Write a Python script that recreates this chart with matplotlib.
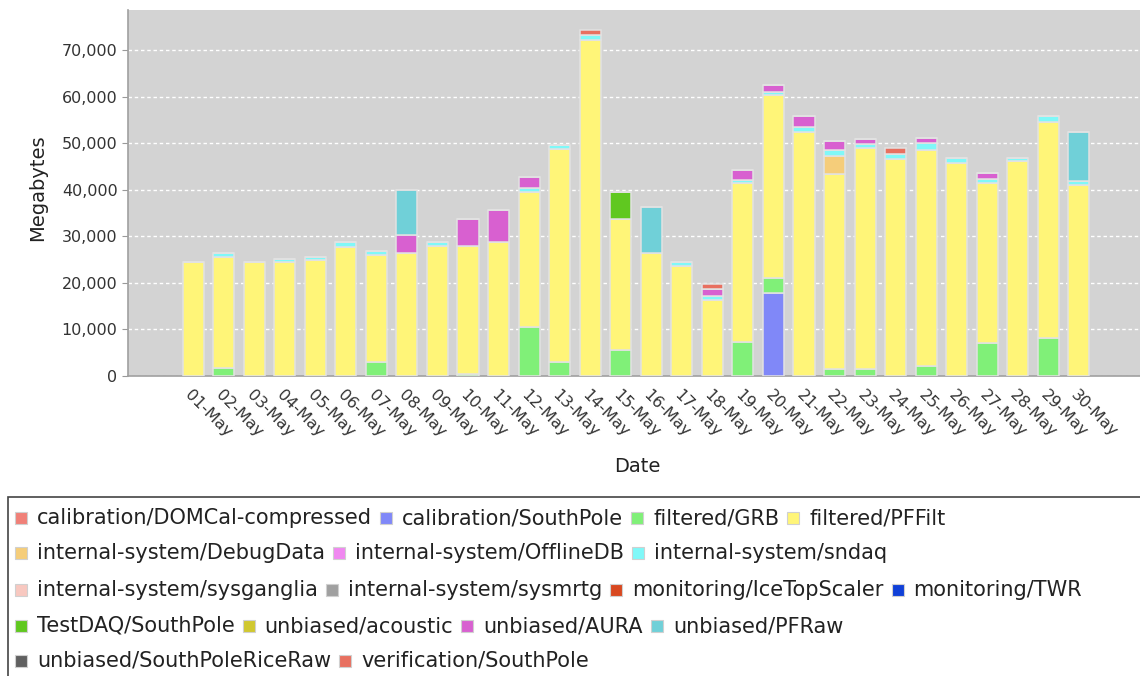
import matplotlib

matplotlib.use("Agg")

import matplotlib.pyplot as plt  # noqa: E402
import numpy as np  # noqa: E402
from matplotlib.patches import Rectangle  # noqa: E402
from matplotlib.ticker import FuncFormatter  # noqa: E402

# ---------------------------------------------------------------- data (MB per day)
DATES = [
    "01-May", "02-May", "03-May", "04-May", "05-May", "06-May", "07-May", "08-May",
    "09-May", "10-May", "11-May", "12-May", "13-May", "14-May", "15-May", "16-May",
    "17-May", "18-May", "19-May", "20-May", "21-May", "22-May", "23-May", "24-May",
    "25-May", "26-May", "27-May", "28-May", "29-May", "30-May",
]

CAL_SOUTHPOLE = [0, 0, 0, 0, 0, 0, 0, 0, 0, 0, 0, 0, 0, 0, 0,
                 0, 0, 0, 0, 17900, 0, 0, 0, 0, 0, 0, 0, 0, 0, 0]
GRB = [0, 1700, 0, 0, 0, 0, 2900, 0, 0, 500, 0, 10500, 2900, 0, 5500,
       0, 0, 0, 7200, 3100, 0, 1400, 1400, 0, 2100, 0, 7100, 0, 8200, 0]
PFFILT = [24400, 23900, 24400, 24500, 24900, 27600, 23100, 26400, 28000, 27400,
          28800, 29000, 45900, 72100, 28200, 26400, 23700, 16300, 34300, 39400,
          52300, 42000, 47500, 46500, 46400, 45800, 34400, 46100, 46400, 41000]
DEBUGDATA = [0, 0, 0, 0, 0, 0, 0, 0, 0, 0, 0, 0, 0, 0, 0,
             0, 0, 0, 0, 0, 0, 3900, 0, 0, 0, 0, 0, 0, 0, 0]
SNDAQ = [0, 800, 0, 700, 700, 1100, 800, 0, 800, 0, 0, 900, 800, 1200, 0,
         0, 800, 900, 500, 500, 1200, 1200, 900, 1200, 1500, 1100, 800, 800, 1200, 900]
TESTDAQ = [0, 0, 0, 0, 0, 0, 0, 0, 0, 0, 0, 0, 0, 0, 5900,
           0, 0, 0, 0, 0, 0, 0, 0, 0, 0, 0, 0, 0, 0, 0]
AURA = [0, 0, 0, 0, 0, 0, 0, 3900, 0, 5900, 6900, 2300, 0, 0, 0,
        0, 0, 1400, 2200, 1500, 2300, 1900, 1000, 0, 1200, 0, 1200, 0, 0, 0]
PFRAW = [0, 0, 0, 0, 0, 0, 0, 9600, 0, 0, 0, 0, 0, 0, 0,
         10000, 0, 0, 0, 0, 0, 0, 0, 0, 0, 0, 0, 0, 0, 10400]
VERIFICATION = [0, 0, 0, 0, 0, 0, 0, 0, 0, 0, 0, 0, 0, 1100, 0,
                0, 0, 1200, 0, 0, 0, 0, 0, 1200, 0, 0, 0, 0, 0, 0]

LEGEND_ROWS = [
    ["calibration/DOMCal-compressed", "calibration/SouthPole", "filtered/GRB", "filtered/PFFilt"],
    ["internal-system/DebugData", "internal-system/OfflineDB", "internal-system/sndaq"],
    ["internal-system/sysganglia", "internal-system/sysmrtg", "monitoring/IceTopScaler", "monitoring/TWR"],
    ["TestDAQ/SouthPole", "unbiased/acoustic", "unbiased/AURA", "unbiased/PFRaw"],
    ["unbiased/SouthPoleRiceRaw", "verification/SouthPole"],
]

COLORS = {
    "calibration/DOMCal-compressed": "#f08078",
    "calibration/SouthPole": "#8088f8",
    "filtered/GRB": "#80f078",
    "filtered/PFFilt": "#fff578",
    "internal-system/DebugData": "#f5cd7a",
    "internal-system/OfflineDB": "#f088f0",
    "internal-system/sndaq": "#80f8f8",
    "internal-system/sysganglia": "#f8c8c0",
    "internal-system/sysmrtg": "#a0a0a0",
    "monitoring/IceTopScaler": "#d84820",
    "monitoring/TWR": "#1040d8",
    "TestDAQ/SouthPole": "#60c820",
    "unbiased/acoustic": "#d0c830",
    "unbiased/AURA": "#d860d0",
    "unbiased/PFRaw": "#70d0d8",
    "unbiased/SouthPoleRiceRaw": "#606060",
    "verification/SouthPole": "#e87060",
}

# stacking order, bottom to top
STACK = [
    ("calibration/SouthPole", CAL_SOUTHPOLE),
    ("filtered/GRB", GRB),
    ("filtered/PFFilt", PFFILT),
    ("internal-system/DebugData", DEBUGDATA),
    ("internal-system/sndaq", SNDAQ),
    ("TestDAQ/SouthPole", TESTDAQ),
    ("unbiased/AURA", AURA),
    ("unbiased/PFRaw", PFRAW),
    ("verification/SouthPole", VERIFICATION),
]

# ---------------------------------------------------------------- figure
W, H = 1140, 676
fig = plt.figure(figsize=(W / 100, H / 100), dpi=100)
ax = fig.add_axes([128 / W, 1 - 376 / H, 1 - 128 / W, 366 / H])
ax.set_facecolor("#d3d3d3")

x = np.arange(len(DATES))
bottom = np.zeros(len(DATES))
for name, vals in STACK:
    vals = np.array(vals, dtype=float)
    ax.bar(x, vals, width=0.69, bottom=bottom, color=COLORS[name],
           edgecolor="#e2e2e2", linewidth=1.1, zorder=3)
    bottom += vals

ax.set_xlim(-2.13, 31.0)
ax.set_ylim(0, 78600)
ax.set_yticks(range(0, 70001, 10000))
ax.yaxis.set_major_formatter(FuncFormatter(lambda v, p: f"{int(v):,}"))
ax.yaxis.grid(True, color="white", linestyle=(0, (2.5, 2)), linewidth=1.0, zorder=1)
ax.set_axisbelow(True)

ax.set_xticks(x)
ax.set_xticklabels(DATES, rotation=-45, ha="left", rotation_mode="anchor")
ax.tick_params(axis="x", length=0, pad=8, labelsize=11.5, labelcolor="#333333")
ax.tick_params(axis="y", length=4, color="#999999", labelsize=11.5, labelcolor="#333333")

for s in ("top", "right"):
    ax.spines[s].set_visible(False)
for s in ("left", "bottom"):
    ax.spines[s].set_color("#a0a0a0")
    ax.spines[s].set_linewidth(1.2)

fig.text(38 / W, 1 - 188 / H, "Megabytes", rotation=90, ha="center", va="center",
         fontsize=14, color="#222222")
fig.text(637 / W, 1 - 466 / H, "Date", ha="center", va="center", fontsize=14, color="#222222")

# ---------------------------------------------------------------- legend (flow layout)
fig.patches.append(Rectangle((8 / W, -0.01), 1.0, (1 - 497 / H) + 0.01, transform=fig.transFigure,
                             facecolor="white", edgecolor="#444444", linewidth=1.2, zorder=0))
renderer = fig.canvas.get_renderer()
row_y = [518, 553, 590, 626, 661]
SW = 12
for row, yc in zip(LEGEND_ROWS, row_y):
    xp = 15
    for name in row:
        fig.patches.append(Rectangle((xp / W, 1 - (yc + SW / 2) / H), SW / W, SW / H,
                                     transform=fig.transFigure, facecolor=COLORS[name],
                                     edgecolor="#d0d0d0", linewidth=0.8, zorder=2))
        t = fig.text((xp + 22) / W, 1 - yc / H, name, ha="left", va="center",
                     fontsize=15, color="#222222")
        bb = t.get_window_extent(renderer)
        xp = bb.x1 + 8

fig.savefig("out.png", dpi=100, facecolor="white")
